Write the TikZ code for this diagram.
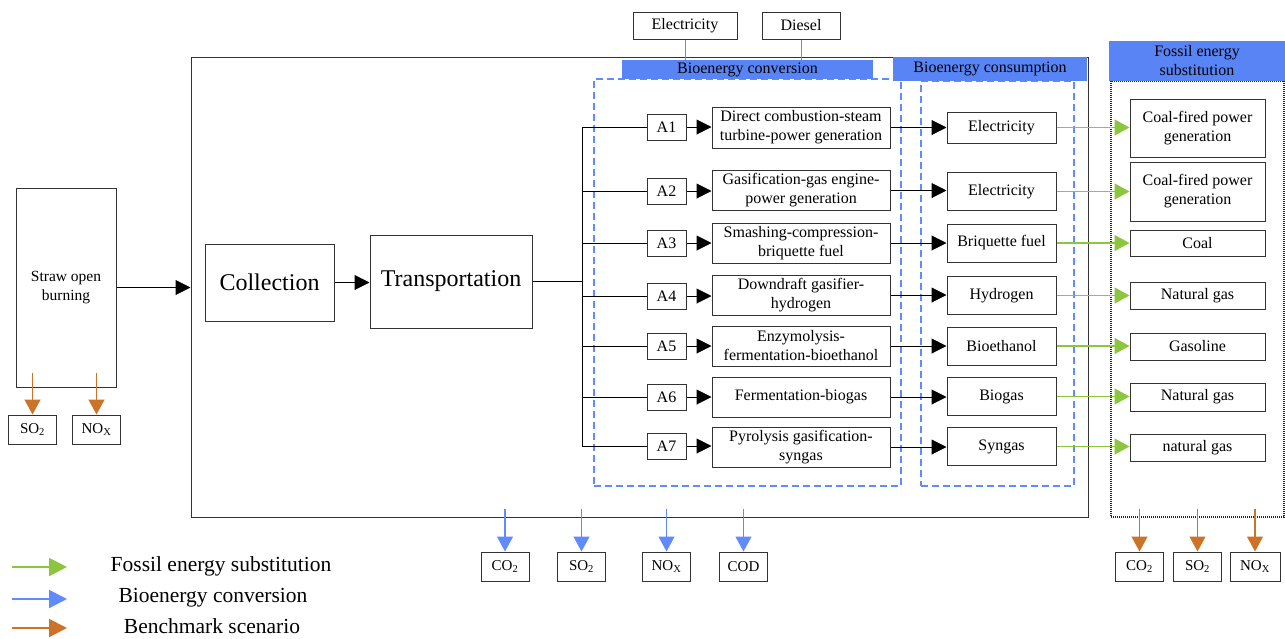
\documentclass[tikz,border=0pt]{standalone}
\usepackage{fontspec}
\setmainfont{Liberation Serif}
\usetikzlibrary{arrows.meta}
\definecolor{hblue}{RGB}{88,132,245}
\definecolor{lblue}{RGB}{98,138,255}
\definecolor{ora}{RGB}{205,115,40}
\definecolor{grn}{RGB}{140,198,63}
\begin{document}
\begin{tikzpicture}[x=1pt,y=-1pt,
  bx/.style={draw=black!80, line width=1pt, fill=white, inner sep=0pt, align=center, font=\fontsize{16}{19}\selectfont},
  hdr/.style={fill=hblue, inner sep=0pt, align=center, font=\fontsize{16}{19}\selectfont},
  em/.style={bx, minimum width=48pt, minimum height=29pt, font=\fontsize{15}{18}\selectfont},
  blk/.style={draw=black, line width=1pt, -{Triangle[length=15pt,width=15pt]}},
  plain/.style={draw=black, line width=1pt},
  garr/.style={draw=grn, line width=1.2pt, -{Triangle[length=15pt,width=16pt]}},
  barr/.style={draw=lblue, line width=1.2pt, -{Triangle[length=15pt,width=16pt]}},
  oarr/.style={draw=ora, line width=1.2pt, -{Triangle[length=15pt,width=16pt]}},
  legarr/.style={line width=2pt, -{Triangle[length=18pt,width=18pt]}},
  dbox/.style={draw=lblue, line width=1.2pt, dash pattern=on 7pt off 4pt},
  leg/.style={inner sep=0pt, font=\fontsize{21.5}{24}\selectfont}
]
\useasboundingbox (0,0) rectangle (1285,638);

% main frame
\node[draw=black!80, line width=1pt, minimum width=897pt, minimum height=460pt, inner sep=0pt] (main) at (639.5,287) {};
% fossil frame (dotted)
\node[draw=black!85, line width=1.2pt, dash pattern=on 1pt off 1pt, minimum width=173pt, minimum height=436pt, inner sep=0pt] (fossil) at (1197.5,299) {};

% dashed group boxes
\node[dbox, minimum width=307pt, minimum height=407pt, inner sep=0pt] (convbox) at (747.5,282.5) {};
\node[dbox, minimum width=153pt, minimum height=405pt, inner sep=0pt] (consbox) at (997.5,283.5) {};

% headers
\node[hdr, minimum width=251pt, minimum height=19pt] (convh) at (747.5,69.5) {Bioenergy conversion};
\node[hdr, minimum width=194pt, minimum height=24pt] (consh) at (990,69) {Bioenergy consumption};
\node[hdr, minimum width=176pt, minimum height=40pt] (fosh) at (1197,61) {Fossil energy\\substitution};

% inputs
\node[bx, minimum width=104pt, minimum height=27pt] (elec) at (685,25.5) {Electricity};
\node[bx, minimum width=78pt, minimum height=27pt] (dies) at (801,25.5) {Diesel};
\draw[draw=lblue, line width=1pt] (elec.south) -- (elec.south |- convh.north);
\draw[draw=lblue, line width=1pt] (dies.south) -- (dies.south |- convh.north);

% left chain
\node[bx, minimum width=100pt, minimum height=199pt, font=\fontsize{15.5}{19}\selectfont] (straw) at (66,287.5) {Straw open\\burning};
\node[bx, minimum width=129pt, minimum height=77pt, font=\fontsize{24}{28}\selectfont] (coll) at (269.5,282.5) {Collection};
\node[bx, minimum width=162pt, minimum height=93pt, font=\fontsize{24}{28}\selectfont] (trans) at (451,281.5) {Transportation};
\draw[blk] (straw.east) -- (straw.east -| main.west);
\draw[blk] (coll.east) -- (coll.east -| trans.west);
\coordinate (busm) at (582,281.5);
\draw[plain] (trans.east) -- (busm);

% rows
\foreach \i/\y in {1/127,2/191,3/243,4/296,5/346,6/397,7/446}{
  \coordinate (b\i) at (582,\y);
  \node[bx, minimum width=39pt, minimum height=26pt] (A\i) at (666.5,\y) {A\i};
}
\draw[plain] (b1) -- (b7);

\node[bx, minimum width=178pt, minimum height=41pt] (P1) at (801,127.5) {Direct combustion-steam\\turbine-power generation};
\node[bx, minimum width=178pt, minimum height=40pt] (P2) at (801,190.5) {Gasification-gas engine-\\power generation};
\node[bx, minimum width=178pt, minimum height=40pt] (P3) at (801,243) {Smashing-compression-\\briquette fuel};
\node[bx, minimum width=178pt, minimum height=40pt] (P4) at (801,295) {Downdraft gasifier-\\hydrogen};
\node[bx, minimum width=178pt, minimum height=40pt] (P5) at (801,346) {Enzymolysis-\\fermentation-bioethanol};
\node[bx, minimum width=178pt, minimum height=40pt] (P6) at (801,397) {Fermentation-biogas};
\node[bx, minimum width=178pt, minimum height=40pt] (P7) at (801,447) {Pyrolysis gasification-\\syngas};

\node[bx, minimum width=109pt, minimum height=31pt] (C1) at (1001.5,127.5) {Electricity};
\node[bx, minimum width=109pt, minimum height=38pt] (C2) at (1001.5,191.5) {Electricity};
\node[bx, minimum width=109pt, minimum height=38pt] (C3) at (1001.5,243) {Briquette fuel};
\node[bx, minimum width=109pt, minimum height=38pt] (C4) at (1001.5,295.5) {Hydrogen};
\node[bx, minimum width=109pt, minimum height=38pt] (C5) at (1001.5,346) {Bioethanol};
\node[bx, minimum width=109pt, minimum height=38pt] (C6) at (1001.5,396.5) {Biogas};
\node[bx, minimum width=109pt, minimum height=38pt] (C7) at (1001.5,446.5) {Syngas};

\node[bx, minimum width=135pt, minimum height=58pt] (F1) at (1197.5,128) {Coal-fired power\\generation};
\node[bx, minimum width=135pt, minimum height=59pt] (F2) at (1197.5,191.5) {Coal-fired power\\generation};
\node[bx, minimum width=135pt, minimum height=26pt] (F3) at (1197.5,243) {Coal};
\node[bx, minimum width=135pt, minimum height=27pt] (F4) at (1197.5,295.5) {Natural gas};
\node[bx, minimum width=135pt, minimum height=27pt] (F5) at (1197.5,346.5) {Gasoline};
\node[bx, minimum width=135pt, minimum height=28pt] (F6) at (1197.5,397) {Natural gas};
\node[bx, minimum width=135pt, minimum height=27pt] (F7) at (1197.5,447.5) {natural gas};

\foreach \i in {1,...,7}{
  \draw[plain] (b\i) -- (A\i.west);
  \draw[blk] (A\i.east) -- (A\i.east -| P\i.west);
  \draw[blk] (P\i.east) -- (P\i.east -| C\i.west);
  \draw[garr] (C\i.east) -- (C\i.east -| F\i.west);
}

% benchmark emissions (left)
\node[em] (ls) at (32.5,429.5) {SO\textsubscript{2}};
\node[em] (ln) at (96.5,429.5) {NO\textsubscript{X}};
\coordinate (lsa) at (32.5,373);
\coordinate (lna) at (96.5,373);
\draw[oarr] (lsa) -- (ls.north);
\draw[oarr] (lna) -- (ln.north);

% bioenergy emissions (bottom)
\node[em] (bc) at (505,566.5) {CO\textsubscript{2}};
\node[em] (bs) at (581.5,566.5) {SO\textsubscript{2}};
\node[em] (bn) at (666.5,566.5) {NO\textsubscript{X}};
\node[em] (bd) at (743.5,566.5) {COD};
\foreach \n in {bc,bs,bn,bd}{
  \coordinate (\n a) at ([yshift=43pt]\n.north);
  \draw[barr] (\n a) -- (\n.north);
}

% fossil emissions (bottom right)
\node[em] (fc) at (1139.5,566.5) {CO\textsubscript{2}};
\node[em] (fs) at (1197.5,566.5) {SO\textsubscript{2}};
\node[em, minimum width=50pt] (fn) at (1255,566.5) {NO\textsubscript{X}};
\foreach \n in {fc,fs,fn}{
  \coordinate (\n a) at ([yshift=43pt]\n.north);
  \draw[oarr] (\n a) -- (\n.north);
}

% legend
\coordinate (g1) at (12,567); \coordinate (g2) at (67,567);
\coordinate (u1) at (12,599); \coordinate (u2) at (67,599);
\coordinate (o1) at (12,628); \coordinate (o2) at (67,628);
\draw[legarr, draw=grn, fill=grn] (g1) -- (g2);
\draw[legarr, draw=lblue, fill=lblue] (u1) -- (u2);
\draw[legarr, draw=ora, fill=ora] (o1) -- (o2);
\node[leg] (lt1) at (221,566) {Fossil energy substitution};
\node[leg] (lt2) at (213,598) {Bioenergy conversion};
\node[leg] (lt3) at (212,626) {Benchmark scenario};
\end{tikzpicture}
\end{document}
